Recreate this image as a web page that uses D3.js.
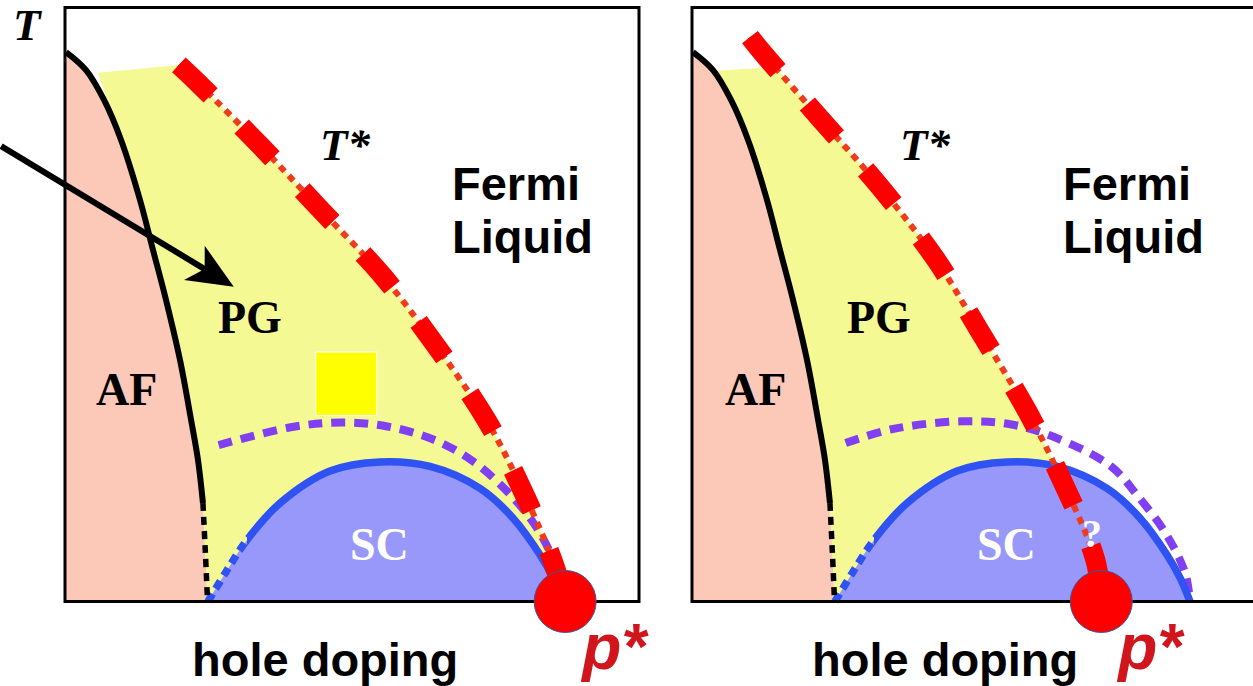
<!DOCTYPE html>
<html>
<head>
<meta charset="utf-8">
<script src="https://cdn.jsdelivr.net/npm/d3@7"></script>
<style>
  html, body { margin: 0; padding: 0; background: #fff; }
  svg { display: block; }
</style>
</head>
<body>
<svg id="chart" width="1253" height="686"></svg>
<script>
// Schematic cuprate phase diagram: hole doping p vs temperature T (K)
const dopingDomain = [0, 0.30];
const tempDomain = [0, 300];

// Neel boundary of the antiferromagnet (solid, then dashed continuation to T = 0)
const afLine = [[0.0005, 277.5], [0.0110, 268.4], [0.0204, 253.3], [0.0293, 233.1], [0.0392, 202.8],
                [0.0460, 177.5], [0.0528, 152.3], [0.0601, 122.0], [0.0659, 91.7], [0.0695, 71.5],
                [0.0721, 49.7]];
const afLineDashed = [[0.0721, 49.7], [0.0733, 26.0], [0.0745, 0]];

// Superconducting dome Tc(p); the underdoped foot below pDomeSolid is drawn dashed
const scDome = [[0.0747, 0], [0.0841, 14.9], [0.0951, 31.1], [0.1124, 49.7], [0.1385, 65.9],
                [0.1646, 70.5], [0.1908, 68.2], [0.2169, 57.1], [0.2341, 42.2], [0.2483, 23.5],
                [0.2551, 11.9], [0.2603, 0]];
const pDomeSolid = 0.0951;

// Upper-left corner of the pseudogap region, one pair per scenario
const pgTopA = [[0.0172, 267], [0.0595, 271]];
const pgTopB = [[0.0125, 268], [0.0438, 270]];

// Pseudogap temperature T*(p) for the two scenarios
const tStarA = [[0.0595, 271], [0.0694, 262], [0.1023, 230], [0.1325, 199], [0.1664, 164],
                [0.1925, 131], [0.2207, 91], [0.2416, 51], [0.2551, 20], [0.2614, 0]];
const tStarB = [[0.0303, 285], [0.0370, 277], [0.0678, 243], [0.0986, 209], [0.1273, 173],
                [0.1513, 135], [0.1753, 96], [0.1925, 63], [0.2108, 21], [0.2139, 0]];

// Onset of superconducting fluctuations (dotted)
const fluctA = [[0.0803, 79], [0.1179, 88], [0.1440, 90.4], [0.1685, 88.4], [0.1925, 81.8],
                [0.2134, 70.7], [0.2311, 55.6], [0.2447, 39.9], [0.2536, 24.7], [0.2577, 13.6]];
const fluctB = [[0.0803, 80], [0.1043, 87], [0.1409, 91], [0.1670, 89.4], [0.1899, 82.8],
                [0.2191, 68.2], [0.2332, 53], [0.2473, 34.8], [0.2577, 14.6], [0.2603, 0]];

// Critical doping where T* ends
const pStar = [0.2614, 0.2139];

// Highlighted probe point (doping span, temperature span) and the pointer toward PG
const probeP = [0.131, 0.163];
const probeT = [94, 126];
const pointerFrom = [-0.0334, 230];
const pointerTo = [0.0882, 159];

const panels = [
  { id: "a", range: [65, 639], pgTop: pgTopA, tStar: tStarA, fluct: fluctA, pStar: pStar[0],
    labels: { tStar: [320, 160], fermi: [452, 200], liquid: [452, 253], pg: [218, 333],
              af: [96, 405], sc: [350, 560], hole: [192, 676] },
    axisT: true, probe: true, pointer: true, question: false },
  { id: "b", range: [692, 1266], pgTop: pgTopB, tStar: tStarB, fluct: fluctB, pStar: pStar[1],
    labels: { tStar: [900, 160], fermi: [1063, 200], liquid: [1063, 253], pg: [847, 333],
              af: [725, 405], sc: [977, 560], hole: [812, 676], q: [1082, 547] },
    axisT: false, probe: false, pointer: false, question: true }
];

const SERIF = "'Liberation Serif','Times New Roman',serif";
const SANS = "'Liberation Sans',Arial,sans-serif";

const svg = d3.select("#chart");
const defs = svg.append("defs");
const yRange = [601.5, 7.5];

panels.forEach(panel => {
  const x = d3.scaleLinear().domain(dopingDomain).range(panel.range);
  const y = d3.scaleLinear().domain(tempDomain).range(yRange);
  const curve = d3.curveCatmullRom.alpha(0.5);
  const line = d3.line().x(d => x(d[0])).y(d => y(d[1])).curve(curve);
  const seg = pts => line(pts).replace(/^M/, "L");
  const g = svg.append("g");

  // Clip regions splitting the dome outline into its dashed foot and solid arc
  const xs = x(pDomeSolid);
  defs.append("clipPath").attr("id", `foot-${panel.id}`)
    .append("rect").attr("x", 0).attr("y", 0).attr("width", xs).attr("height", 686);
  defs.append("clipPath").attr("id", `arc-${panel.id}`)
    .append("rect").attr("x", xs).attr("y", 0).attr("width", 1253 - xs).attr("height", 686);

  // Antiferromagnetic region
  g.append("path")
    .attr("d", line(afLine) + seg(afLineDashed) +
      `L${x(0)},${y(0)}L${x(0)},${y(afLine[0][1])}Z`)
    .attr("fill", "#fcc8b8");

  // Pseudogap region bounded by T*, the axis and the AF line
  const top = panel.pgTop;
  const pgPath = `M${x(top[0][0])},${y(top[0][1])}` +
    seg([top[1], ...panel.tStar.filter(d => d[1] < top[1][1])]) +
    seg(afLineDashed.slice().reverse()) +
    seg(afLine.slice().reverse().filter(d => d[1] < 250)) + "Z";
  g.append("path").attr("d", pgPath).attr("fill", "#f4f994");

  // Superconducting dome
  g.append("path").attr("d", line(scDome) + "Z").attr("fill", "#9798f9");

  // Probe square
  if (panel.probe) {
    g.append("rect")
      .attr("x", x(probeP[0])).attr("y", y(probeT[1]))
      .attr("width", x(probeP[1]) - x(probeP[0]))
      .attr("height", y(probeT[0]) - y(probeT[1]))
      .attr("fill", "#ffff00").attr("stroke", "#ffffff").attr("stroke-width", 1);
  }

  // Fluctuation onset (dotted purple)
  g.append("path").attr("d", line(panel.fluct))
    .attr("fill", "none").attr("stroke", "#8040f2")
    .attr("stroke-width", 8).attr("stroke-dasharray", "14 9");

  // Dome boundary
  g.append("path").attr("d", line(scDome)).attr("clip-path", `url(#arc-${panel.id})`)
    .attr("fill", "none").attr("stroke", "#2f52f2").attr("stroke-width", 7.5);
  g.append("path").attr("d", line(scDome)).attr("clip-path", `url(#foot-${panel.id})`)
    .attr("fill", "none").attr("stroke", "#2f52f2").attr("stroke-width", 7.5)
    .attr("stroke-dasharray", "9 6");

  // AF boundary
  g.append("path").attr("d", line(afLine))
    .attr("fill", "none").attr("stroke", "#000").attr("stroke-width", 6);
  g.append("path").attr("d", line(afLineDashed))
    .attr("fill", "none").attr("stroke", "#000").attr("stroke-width", 5.5)
    .attr("stroke-dasharray", "8 6");

  // T* line: fine dotted core under heavy dashes
  g.append("path").attr("d", line(panel.tStar))
    .attr("fill", "none").attr("stroke", "#f03a1a")
    .attr("stroke-width", 6).attr("stroke-dasharray", "7 6");
  g.append("path").attr("d", line(panel.tStar))
    .attr("fill", "none").attr("stroke", "#ff0000")
    .attr("stroke-width", 20).attr("stroke-dasharray", "44 44");

  // Frame
  g.append("rect")
    .attr("x", x(0)).attr("y", y(tempDomain[1]))
    .attr("width", x(dopingDomain[1]) - x(0))
    .attr("height", y(0) - y(tempDomain[1]))
    .attr("fill", "none").attr("stroke", "#000").attr("stroke-width", 3);

  // Critical point p*
  g.append("circle")
    .attr("cx", x(panel.pStar)).attr("cy", y(0)).attr("r", 31)
    .attr("fill", "#ff0000").attr("stroke", "#3a5a9a").attr("stroke-width", 1);

  const L = panel.labels;
  const text = (pos, str, opts) => g.append("text")
    .attr("x", pos[0]).attr("y", pos[1]).text(str)
    .attr("font-family", opts.family).attr("font-size", opts.size)
    .attr("font-weight", "bold").attr("font-style", opts.italic ? "italic" : "normal")
    .attr("fill", opts.fill || "#000");

  text(L.tStar, "T*", { family: SERIF, size: 45, italic: true });
  text(L.fermi, "Fermi", { family: SANS, size: 47 });
  text(L.liquid, "Liquid", { family: SANS, size: 47 });
  text(L.pg, "PG", { family: SERIF, size: 46 });
  text(L.af, "AF", { family: SERIF, size: 46 });
  text(L.sc, "SC", { family: SERIF, size: 46, fill: "#ffffff" });
  if (panel.question) text(L.q, "?", { family: SERIF, size: 40, fill: "#ffffff" });
  text(L.hole, "hole doping", { family: SANS, size: 47 });
  text([x(panel.pStar) + 17, y(0) + 67], "p*", { family: SANS, size: 64, italic: true, fill: "#d0161c" });
  if (panel.axisT) text([13, 40], "T", { family: SERIF, size: 45, italic: true });

  // Pointer arrow into the pseudogap region
  if (panel.pointer) {
    const x0 = x(pointerFrom[0]), y0 = y(pointerFrom[1]);
    const x1 = x(pointerTo[0]), y1 = y(pointerTo[1]);
    const len = Math.hypot(x1 - x0, y1 - y0);
    const ux = (x1 - x0) / len, uy = (y1 - y0) / len;
    const nx = -uy, ny = ux;
    const headL = 46, headW = 20, notch = 12;
    const bx = x1 - headL * ux, by = y1 - headL * uy;
    const mx = x1 - (headL - notch) * ux, my = y1 - (headL - notch) * uy;
    g.append("line")
      .attr("x1", x0).attr("y1", y0).attr("x2", mx).attr("y2", my)
      .attr("stroke", "#000").attr("stroke-width", 6);
    g.append("path")
      .attr("d", `M${x1},${y1}L${bx + headW * nx},${by + headW * ny}L${mx},${my}L${bx - headW * nx},${by - headW * ny}Z`)
      .attr("fill", "#000");
  }
});
</script>
</body>
</html>
